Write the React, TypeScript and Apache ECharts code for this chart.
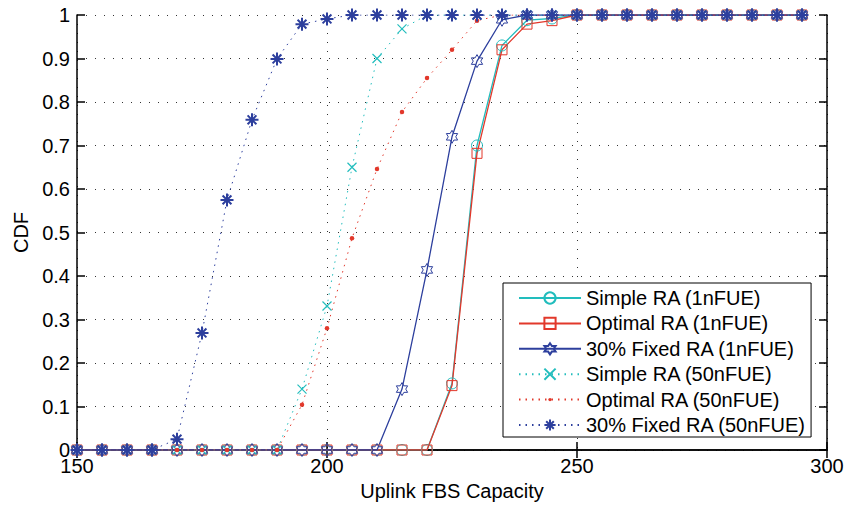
import React, { useEffect, useRef } from "react";
import * as echarts from "echarts";

const xValues = [150, 155, 160, 165, 170, 175, 180, 185, 190, 195, 200, 205, 210, 215, 220, 225, 230, 235, 240, 245, 250, 255, 260, 265, 270, 275, 280, 285, 290, 295];

const simple1 = [0, 0, 0, 0, 0, 0, 0, 0, 0, 0, 0, 0, 0, 0, 0, 0.153, 0.70, 0.93, 0.988, 0.992, 1, 1, 1, 1, 1, 1, 1, 1, 1, 1];
const optimal1 = [0, 0, 0, 0, 0, 0, 0, 0, 0, 0, 0, 0, 0, 0, 0, 0.148, 0.682, 0.92, 0.979, 0.987, 1, 1, 1, 1, 1, 1, 1, 1, 1, 1];
const fixed1 = [0, 0, 0, 0, 0, 0, 0, 0, 0, 0, 0, 0, 0, 0.14, 0.414, 0.72, 0.894, 0.989, 1, 1, 1, 1, 1, 1, 1, 1, 1, 1, 1, 1];
const simple50 = [0, 0, 0, 0, 0, 0, 0, 0, 0, 0.14, 0.331, 0.65, 0.90, 0.968, 1, 1, 1, 1, 1, 1, 1, 1, 1, 1, 1, 1, 1, 1, 1, 1];
const optimal50 = [0, 0, 0, 0, 0, 0, 0, 0, 0, 0.104, 0.28, 0.487, 0.646, 0.777, 0.855, 0.92, 0.987, 1, 1, 1, 1, 1, 1, 1, 1, 1, 1, 1, 1, 1];
const fixed50 = [0, 0, 0, 0, 0.025, 0.269, 0.575, 0.759, 0.899, 0.979, 0.991, 1, 1, 1, 1, 1, 1, 1, 1, 1, 1, 1, 1, 1, 1, 1, 1, 1, 1, 1];

const seriesNames = [
  "Simple RA (1nFUE)",
  "Optimal RA (1nFUE)",
  "30% Fixed RA (1nFUE)",
  "Simple RA (50nFUE)",
  "Optimal RA (50nFUE)",
  "30% Fixed RA (50nFUE)",
];

const CYAN = "#22BDBD";
const RED = "#E2382B";
const BLUE = "#2D3F9D";

const HEXAGRAM = "path://M50 0 L64.43 25 L93.3 25 L78.87 50 L93.3 75 L64.43 75 L50 100 L35.57 75 L6.7 75 L21.13 50 L6.7 25 L35.57 25 Z";
const XMARK = "path://M0 0 L10 10 M10 0 L0 10";
const ASTERISK = "path://M5 0 L5 10 M0 5 L10 5 M1.6 1.6 L8.4 8.4 M8.4 1.6 L1.6 8.4";
// small dot inside a larger invisible box (the move-to corners set the box)
const SMALLDOT = "path://M0 0 M10 10 M3.5 5 A1.5 1.5 0 1 1 6.5 5 A1.5 1.5 0 1 1 3.5 5 Z";

const FONT = "'Liberation Sans', Arial, Helvetica, sans-serif";

export default function App() {
  const ref = useRef<HTMLDivElement>(null);
  useEffect(() => {
    if (!ref.current) return;
    const chart = echarts.init(ref.current, null, { renderer: "svg" });
    const pts = (ys: number[]) => xValues.map((x, i) => [x, ys[i]]);
    const mk = (
      name: string,
      ys: number[],
      color: string,
      lineType: any,
      symbol: string,
      size: any,
      fill: string,
      bw: number,
      lw: number
    ) => ({
      name,
      type: "line",
      data: pts(ys),
      symbol,
      symbolSize: size,
      symbolKeepAspect: true,
      showSymbol: true,
      color,
      lineStyle: { color, width: lw, type: lineType },
      itemStyle: { color: fill, borderColor: color, borderWidth: bw },
      emphasis: { disabled: true },
    });
    const option: any = {
      animation: false,
      backgroundColor: "#ffffff",
      textStyle: { fontFamily: FONT },
      grid: { left: 77, top: 15, right: 31, bottom: 56, show: false },
      legend: {
        orient: "vertical",
        left: 503,
        top: 283,
        itemWidth: 62,
        itemHeight: 14,
        itemGap: 5.4,
        padding: [5, 5, 2, 15],
        borderColor: "#000",
        borderWidth: 1,
        backgroundColor: "#fff",
        borderRadius: 0,
        textStyle: { fontFamily: FONT, fontSize: 20, color: "#000" },
        data: seriesNames,
      },
      xAxis: [
        {
          type: "value",
          min: 150,
          max: 300,
          interval: 50,
          name: "Uplink FBS Capacity",
          nameLocation: "middle",
          nameGap: 30,
          nameTextStyle: { fontFamily: FONT, fontSize: 20, color: "#000" },
          axisLine: { show: true, lineStyle: { color: "#000", width: 1.5 } },
          axisTick: { show: true, inside: true, length: 8, lineStyle: { color: "#000", width: 1.5 } },
          axisLabel: { fontFamily: FONT, fontSize: 20, color: "#000", margin: 6 },
          splitLine: { show: true, lineStyle: { color: "#333", width: 1, type: [1, 8] } },
        },
        {
          type: "value",
          position: "top",
          min: 150,
          max: 300,
          interval: 50,
          axisLine: { show: true, lineStyle: { color: "#000", width: 1.5 } },
          axisTick: { show: true, inside: true, length: 8, lineStyle: { color: "#000", width: 1.5 } },
          axisLabel: { show: false },
          splitLine: { show: false },
        },
      ],
      yAxis: [
        {
          type: "value",
          min: 0,
          max: 1,
          interval: 0.1,
          name: "CDF",
          nameLocation: "middle",
          nameGap: 46,
          nameTextStyle: { fontFamily: FONT, fontSize: 20, color: "#000" },
          axisLine: { show: true, lineStyle: { color: "#000", width: 1.5 } },
          axisTick: { show: true, inside: true, length: 8, lineStyle: { color: "#000", width: 1.5 } },
          axisLabel: {
            fontFamily: FONT,
            fontSize: 20,
            color: "#000",
            margin: 7,
            formatter: (v: number) => String(Math.round(v * 10) / 10),
          },
          splitLine: { show: true, lineStyle: { color: "#333", width: 1, type: [1, 8] } },
        },
        {
          type: "value",
          position: "right",
          min: 0,
          max: 1,
          interval: 0.1,
          axisLine: { show: true, lineStyle: { color: "#000", width: 1.5 } },
          axisTick: { show: true, inside: true, length: 8, lineStyle: { color: "#000", width: 1.5 } },
          axisLabel: { show: false },
          splitLine: { show: false },
        },
      ],
      series: [
        mk(seriesNames[0], simple1, CYAN, "solid", "circle", 11, "rgba(255,255,255,0)", 1, 1.3),
        mk(seriesNames[1], optimal1, RED, "solid", "rect", 10, "rgba(255,255,255,0)", 1, 1.3),
        mk(seriesNames[2], fixed1, BLUE, "solid", HEXAGRAM, 13, "rgba(255,255,255,0)", 1, 1.3),
        mk(seriesNames[3], simple50, CYAN, [1.5, 5], XMARK, 9, "rgba(255,255,255,0)", 1.2, 1),
        mk(seriesNames[4], optimal50, RED, [1.5, 5], SMALLDOT, 15, RED, 0, 1),
        mk(seriesNames[5], fixed50, BLUE, [1.5, 5], ASTERISK, 13, "rgba(255,255,255,0)", 2, 1),
      ],
    };
    chart.setOption(option);
    return () => chart.dispose();
  }, []);
  return (
    <div
      ref={ref}
      style={{ position: "fixed", left: 0, top: 0, width: 858, height: 506, background: "#fff" }}
    />
  );
}
